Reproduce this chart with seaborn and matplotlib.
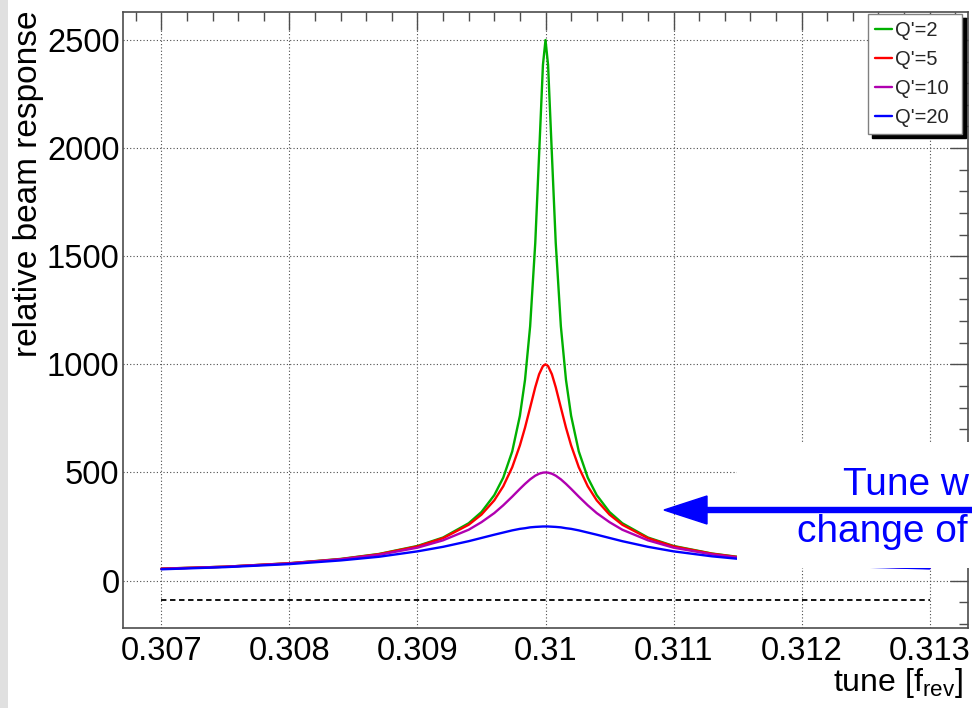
import matplotlib
matplotlib.use("Agg")
import matplotlib.pyplot as plt
import matplotlib.ticker as mticker
from matplotlib.lines import Line2D
from matplotlib.patches import Rectangle, FancyArrow
from matplotlib.transforms import IdentityTransform
import pandas as pd
import seaborn as sns

sns.set_theme(style="white")
plt.rcParams['font.family'] = ['Liberation Sans', 'DejaVu Sans']
plt.rcParams['mathtext.fontset'] = 'custom'
plt.rcParams['mathtext.rm'] = 'Liberation Sans'
plt.rcParams['mathtext.it'] = 'Liberation Sans:italic'

########################################
# values

tune = [0.3070, 0.3075, 0.3080, 0.3084, 0.3087, 0.3090, 0.3092, 0.3094, 0.3095,
        0.3096, 0.30967, 0.30974, 0.3098, 0.30984, 0.30988, 0.30992, 0.30995, 0.30998,
        0.3100,
        0.31002, 0.31005, 0.31008, 0.31012, 0.31016, 0.3102, 0.31026, 0.31033, 0.3104,
        0.3105, 0.3106, 0.3108, 0.3110, 0.3113, 0.3116, 0.3120, 0.3125, 0.3130]

resp_q2 = [55, 64, 80, 100, 123, 160, 199, 265, 317, 395, 476, 597, 762, 928, 1176, 1561, 1970, 2385,
           2500,
           2385, 1970, 1561, 1176, 928, 762, 597, 476, 395, 317, 265, 199, 160, 125, 102, 82, 68, 60]
resp_q5 = [55, 64, 80, 99, 122, 158, 196, 258, 305, 371, 436, 524, 625, 707, 800, 894, 954, 992,
           1000,
           992, 954, 894, 800, 707, 625, 524, 436, 371, 305, 258, 196, 158, 124, 101, 81, 67, 59]
resp_q10 = [54, 64, 79, 98, 119, 152, 186, 235, 270, 312, 348, 388, 424, 447, 468, 485, 494, 499,
            500,
            499, 494, 485, 468, 447, 424, 388, 348, 312, 270, 235, 186, 152, 121, 99, 80, 66, 58]
resp_q20 = [52, 62, 76, 93, 110, 135, 156, 182, 197, 212, 222, 232, 239, 242, 246, 248, 249, 250,
            250,
            250, 249, 248, 246, 242, 239, 232, 222, 212, 197, 182, 156, 135, 112, 95, 78, 64, 56]

labels = ["Q'=2", "Q'=5", "Q'=10", "Q'=20"]
colors = ["#00b000", "#ff0000", "#b000b0", "#0000ff"]

baseline_x = [0.307, 0.313]
baseline_y = [-90, -90]

########################################

def build_frame():
    rows = []
    for lab, vals in zip(labels, [resp_q2, resp_q5, resp_q10, resp_q20]):
        for t, v in zip(tune, vals):
            rows.append({"tune": t, "response": v, "curve": lab})
    return pd.DataFrame(rows)

########################################

def plot_response(df):
    W, H = 972, 708
    fig = plt.figure(figsize=(W / 100, H / 100), dpi=100)
    ax = fig.add_axes([123 / W, 1 - 628 / H, 845 / W, 616 / H])

    ax.grid(True, which="major", linestyle=(0, (1, 2)), color="0.3", linewidth=0.8)
    ax.set_axisbelow(True)

    ax.plot(baseline_x, baseline_y, color="black", linestyle=(0, (3, 2)), linewidth=1.3)

    sns.lineplot(data=df, x="tune", y="response", hue="curve", hue_order=labels,
                 palette=dict(zip(labels, colors)), estimator=None, sort=False,
                 legend=False, linewidth=1.7, ax=ax)

    ax.set_xlim(0.3067, 0.3133)
    ax.set_ylim(-219.5, 2629.5)

    ax.xaxis.set_major_locator(mticker.MultipleLocator(0.001))
    ax.xaxis.set_minor_locator(mticker.MultipleLocator(0.0002))
    ax.yaxis.set_major_locator(mticker.MultipleLocator(500))
    ax.yaxis.set_minor_locator(mticker.MultipleLocator(100))
    ax.xaxis.set_major_formatter(mticker.FuncFormatter(lambda v, p: ("%.3f" % v).rstrip("0")))
    ax.yaxis.set_major_formatter(mticker.FuncFormatter(lambda v, p: "%d" % round(v)))

    ax.tick_params(which="both", direction="in", top=True, right=True,
                   color="0.3", width=1, labelsize=23.5, labelcolor="black")
    ax.tick_params(which="major", length=13)
    ax.tick_params(which="minor", length=6.5)
    ax.tick_params(axis="x", pad=6)
    ax.tick_params(axis="y", pad=2.5)
    for sp in ax.spines.values():
        sp.set_color("0.3")
        sp.set_linewidth(1.2)

    ax.set_ylabel("relative beam response", fontsize=24, loc="top", color="black")
    ax.yaxis.set_label_coords(-0.0935, 1.003)
    ax.set_xlabel(r"tune [f$_{\mathrm{rev}}$]", fontsize=23, loc="right", va="baseline",
                  color="black")
    ax.xaxis.set_label_coords(0.994, -0.1023)

    handles = [Line2D([], [], color=c, linewidth=1.7) for c in colors]
    leg = ax.legend(handles, labels, loc="upper left",
                    bbox_to_anchor=(0.8817, 0.7968, 0.1112, 0.2), mode="expand",
                    borderaxespad=0, fontsize=14.5, handlelength=0.85,
                    handletextpad=0.15, labelspacing=0.5, borderpad=0.35,
                    fancybox=False, framealpha=1, edgecolor="0.5",
                    shadow={"ox": 3, "oy": -3, "facecolor": "black",
                            "edgecolor": "black", "alpha": 1})
    leg.get_frame().set_linewidth(1)

    # slide overlay: grey strip, white box, arrow and note
    fig.add_artist(Rectangle((0, 0), 8 / W, 1, transform=fig.transFigure,
                             facecolor="#e0e0e0", edgecolor="none", zorder=5))
    fig.add_artist(Rectangle((737 / W, 1 - 568 / H), 1.0, 126 / H, transform=fig.transFigure,
                             facecolor="white", edgecolor="none", zorder=5))
    fig.add_artist(FancyArrow(1000, H - 510, 664 - 1000, 0, width=5, head_width=28,
                              head_length=43, length_includes_head=True,
                              color="#0000ff", transform=IdentityTransform(), zorder=6))
    fig.text(843 / W, 1 - 495 / H, "Tune w", color="#0000ff", fontsize=28,
             ha="left", va="baseline", zorder=7)
    fig.text(797 / W, 1 - 542 / H, "change of", color="#0000ff", fontsize=28,
             ha="left", va="baseline", zorder=7)

    fig.savefig("out.png", dpi=100)

########################################

def main():
    df = build_frame()
    plot_response(df)

########################################

if __name__ == "__main__":
    main()
